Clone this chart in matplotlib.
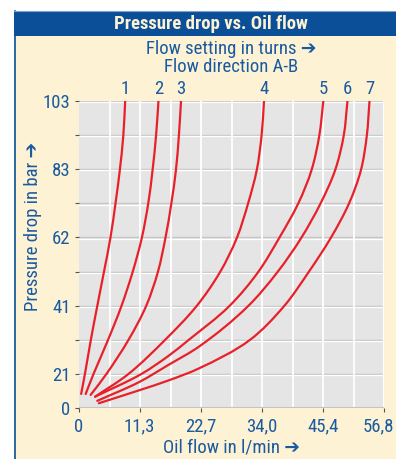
import matplotlib
matplotlib.use("Agg")
import matplotlib.pyplot as plt
import matplotlib.transforms as mtransforms
import numpy as np
from matplotlib import font_manager
from matplotlib.patches import Rectangle, PathPatch
from matplotlib.path import Path
from matplotlib.lines import Line2D

# chart values
flow_ticks = [0, 11.3, 22.7, 34.0, 45.4, 56.8]
flow_tick_labels = ["0", "11,3", "22,7", "34,0", "45,4", "56,8"]
press_tick_labels = ["0", "21", "41", "62", "83", "103"]
press_label_rows = [0, 1, 3, 5, 7, 9]   # grid rows that carry a label
turns = ["1", "2", "3", "4", "5", "6", "7"]

flow_1 = [0.4, 1.1, 2.2, 3.4, 4.65, 5.85, 6.8, 7.6, 8.25, 8.6]
press_1 = [4.7, 11.4, 22.8, 34.2, 45.7, 57.1, 68.7, 79.8, 91.4, 103]
flow_2 = [1.24, 2.7, 5.4, 7.9, 10.0, 11.7, 12.9, 13.7, 14.35, 14.8]
press_2 = [4.7, 11.4, 22.8, 34.2, 45.7, 57.1, 68.7, 79.8, 91.4, 103]
flow_3 = [2.17, 5.1, 9.2, 12.5, 14.7, 16.1, 17.2, 18.05, 18.6, 19.0]
press_3 = [4.4, 11.4, 22.8, 34.2, 45.7, 57.1, 68.7, 79.8, 91.4, 103]
flow_4 = [3.0, 9.2, 16.0, 21.9, 26.3, 29.4, 31.5, 33.1, 34.0, 34.45]
press_4 = [3.8, 11.4, 22.8, 34.2, 45.7, 57.1, 68.7, 79.8, 91.4, 103]
flow_5 = [3.0, 11.6, 16.6, 20.4, 28.0, 33.4, 37.3, 40.85, 43.3, 44.75, 45.5]
press_5 = [3.8, 11.4, 17.4, 22.8, 34.2, 45.7, 57.1, 68.7, 79.8, 91.4, 103]
flow_6 = [3.4, 11.3, 16.6, 22.35, 31.5, 37.0, 41.4, 45.0, 47.7, 49.3, 50.0]
press_6 = [2.4, 8.8, 14.4, 20.6, 34.2, 45.7, 57.1, 68.7, 79.8, 91.4, 103]
flow_7 = [3.7, 11.3, 16.6, 22.35, 31.8, 38.2, 42.8, 46.9, 50.3, 52.5, 53.6, 54.1]
press_7 = [1.6, 6.0, 9.2, 13.3, 22.8, 34.2, 45.7, 57.1, 68.7, 79.8, 91.4, 103]

curves = [(flow_1, press_1), (flow_2, press_2), (flow_3, press_3), (flow_4, press_4),
          (flow_5, press_5), (flow_6, press_6), (flow_7, press_7)]

BLUE = "#0b4f98"
TXT = "#1a5aa0"
CREAM = "#fdf2d4"
RED = "#e8202a"

# look for a narrow sans face, the reference uses a condensed type
names = sorted({f.name for f in font_manager.fontManager.ttflist})
wanted = ["Liberation Sans Narrow", "Roboto Condensed", "Noto Sans Condensed",
          "Open Sans Condensed", "DejaVu Sans Condensed", "Noto Sans SemiCondensed"]
narrow = None
for n in wanted:
    if n in names:
        narrow = n
        break
if narrow is None:
    for n in names:
        if ("Condensed" in n or "Narrow" in n) and "Mono" not in n and "Serif" not in n:
            narrow = n
            break
if narrow is None:
    narrow = "Liberation Sans"
    scale = 0.85
else:
    scale = 1.0
plt.rcParams["font.family"] = [narrow, "DejaVu Sans"]

W, H = 396, 459
fig = plt.figure(figsize=(W / 100, H / 100), dpi=100)
fig.patch.set_facecolor("white")

def fx(px):
    return px / W

def fy(py):
    return 1 - py / H

# cream panel, left border, title bar
fig.add_artist(Rectangle((fx(14), 0), 1, fy(11), transform=fig.transFigure,
                         facecolor=CREAM, edgecolor="none", zorder=0))
fig.add_artist(Line2D([fx(14.5), fx(14.5)], [0, fy(11)], transform=fig.transFigure,
                      color=BLUE, lw=1.2, zorder=1))
fig.add_artist(Rectangle((fx(14), fy(36)), 1, fy(11) - fy(36), transform=fig.transFigure,
                         facecolor=BLUE, edgecolor="none", zorder=1))
fig.add_artist(Line2D([fx(14), 1], [fy(11), fy(11)], transform=fig.transFigure,
                      color="#7fa3c8", lw=0.8, zorder=2))

fs = 13.5 * scale
fig.text(fx(211), fy(24), "Pressure drop vs. Oil flow", ha="center", va="center",
         color="#fdf2d4", fontsize=13.5 * scale, fontweight="bold")
fig.text(fx(231), fy(49), "Flow setting in turns \u2794", ha="center", va="center",
         color=TXT, fontsize=fs)
fig.text(fx(231), fy(67), "Flow direction A-B", ha="center", va="center",
         color=TXT, fontsize=fs)
fig.text(fx(231), fy(447), "Oil flow in l/min \u2794", ha="center", va="center",
         color=TXT, fontsize=fs)
fig.text(fx(33), fy(226), "Pressure drop in bar \u2794", ha="center", va="center",
         rotation=90, color=TXT, fontsize=fs)

ax = fig.add_axes([fx(79), fy(408), fx(384) - fx(79), fy(101) - fy(408)])
ax.set_facecolor("#e5e5e5")
ax.set_xlim(0, 56.8)
ax.set_ylim(0, 103)

below = mtransforms.offset_copy(ax.transData, fig=fig, y=-1.2, units="dots")
for k in range(1, 10):
    ax.axhline(k * 103 / 9, color="#c6c6c6", lw=1.0, zorder=1)
    ax.plot([0, 56.8], [k * 103 / 9] * 2, color="white", lw=0.9,
            transform=below, zorder=1)
for k in range(1, 10):
    ax.axvline(k * 5.68, color="white", lw=1.3, zorder=1)
ax.axvline(56.8, color="white", lw=1.5, zorder=1)
ax.axhline(0, color="#c4c4c4", lw=1.5, zorder=1)

# smooth path through the read points; tangents worked out in pixel space
sx = (384 - 79) / 56.8
sy = (408 - 101) / 103.0
for fl, pr in curves:
    p = np.column_stack([np.array(fl) * sx, np.array(pr) * sy])
    n = len(p)
    seg = np.diff(p, axis=0)
    seglen = np.hypot(seg[:, 0], seg[:, 1])
    unit = seg / seglen[:, None]
    tan = np.zeros_like(p)
    tan[0] = unit[0]
    tan[-1] = unit[-1]
    for i in range(1, n - 1):
        t = unit[i - 1] + unit[i]
        tan[i] = t / np.hypot(t[0], t[1])
    verts = [p[0]]
    codes = [Path.MOVETO]
    for i in range(n - 1):
        L = seglen[i] / 3
        verts += [p[i] + tan[i] * L, p[i + 1] - tan[i + 1] * L, p[i + 1]]
        codes += [Path.CURVE4] * 3
    verts = [(v[0] / sx, v[1] / sy) for v in verts]
    ax.add_patch(PathPatch(Path(verts, codes), facecolor="none", edgecolor=RED,
                           lw=1.6, capstyle="round", joinstyle="round", zorder=3))

for name, (fl, pr) in zip(turns, curves):
    ax.text(fl[-1], 1.04, name, transform=ax.get_xaxis_transform(),
            ha="center", va="center", color=TXT, fontsize=fs)

for s in ax.spines.values():
    s.set_visible(False)

ax.set_xticks(flow_ticks)
ax.set_xticklabels(flow_tick_labels)
yt = [k * 103 / 9 for k in range(10)]
ax.set_yticks(yt)
ylabels = [""] * 10
for row, lab in zip(press_label_rows, press_tick_labels):
    ylabels[row] = lab
ax.set_yticklabels(ylabels)
ax.tick_params(axis="both", colors="#555555", labelcolor=TXT, labelsize=fs,
               length=3, width=0.8, direction="out")
ax.tick_params(axis="x", pad=4)
ax.tick_params(axis="y", pad=3)

# last flow label sits a little left of its tick, as in the reference
last = ax.get_xticklabels()[-1]
last.set_transform(last.get_transform() +
                   mtransforms.ScaledTranslation(-6 / 100, 0, fig.dpi_scale_trans))

fig.savefig("out.png", dpi=100)
